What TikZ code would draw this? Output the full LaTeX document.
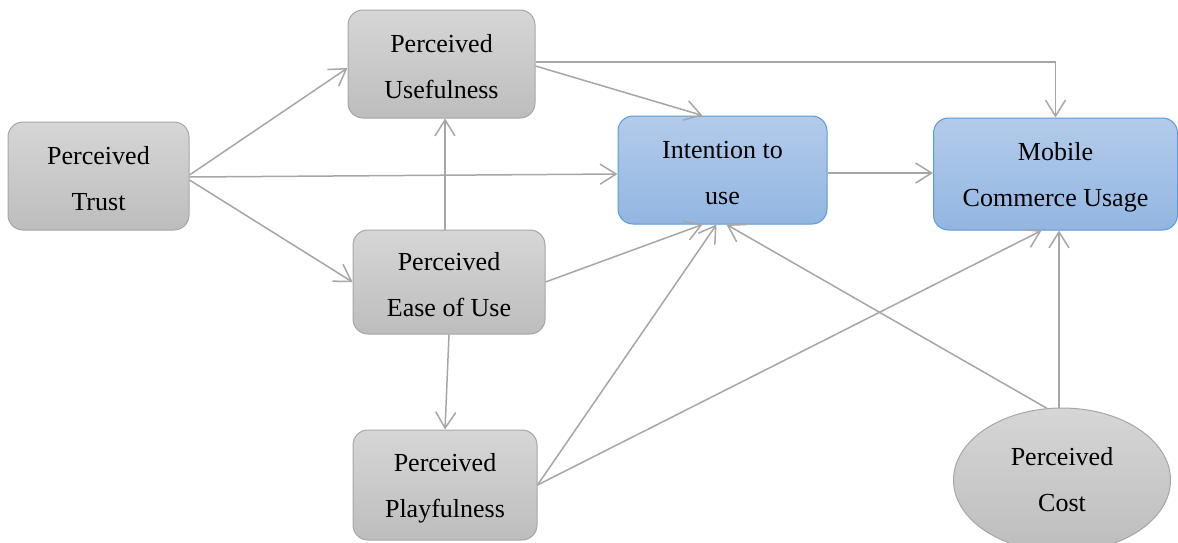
\documentclass[tikz,border=0pt]{standalone}
\usepackage{fontspec}
\setmainfont{Liberation Serif}
\usetikzlibrary{arrows.meta,shapes.geometric,calc}
\definecolor{gtop}{HTML}{D6D6D6}
\definecolor{gbot}{HTML}{BDBDBD}
\definecolor{gline}{HTML}{A6A6A6}
\definecolor{btop}{HTML}{B3CBEA}
\definecolor{bbot}{HTML}{92B6E1}
\definecolor{bline}{HTML}{5B9BD5}
\definecolor{arr}{HTML}{A6A6A6}
\newcommand\mystrut{\rule{0pt}{24pt}}
\tikzset{
  gbox/.style={draw=gline, line width=1pt, rounded corners=15pt, top color=gtop, bottom color=gbot,
    align=center, inner sep=0pt, font=\fontsize{26}{46}\selectfont},
  bbox/.style={draw=bline, line width=1pt, rounded corners=15pt, top color=btop, bottom color=bbot,
    align=center, inner sep=0pt, font=\fontsize{26}{46}\selectfont},
  gell/.style={draw=gline, line width=1pt, ellipse, top color=gtop, bottom color=gbot,
    align=center, inner sep=0pt, font=\fontsize{26}{46}\selectfont},
  link/.style={draw=arr, line width=1.5pt, -{Straight Barb[length=16pt,width=20pt,line width=1.5pt]}}
}
\begin{document}
\begin{tikzpicture}[x=1pt,y=-1pt]
\useasboundingbox (0,0) rectangle (1178,542);
\node[gbox, minimum width=181pt, minimum height=108pt] (tru) at (98.5,176) {\mystrut Perceived\\Trust};
\node[gbox, minimum width=187pt, minimum height=108pt] (use) at (441.5,64) {\mystrut Perceived\\Usefulness};
\node[gbox, minimum width=192pt, minimum height=104pt] (ease) at (449,282) {\mystrut Perceived\\Ease of Use};
\node[gbox, minimum width=184pt, minimum height=110pt] (play) at (445,485) {\mystrut Perceived\\Playfulness};
\node[bbox, minimum width=209pt, minimum height=108pt] (int) at (722.5,170) {\mystrut Intention to\\use};
\node[bbox, minimum width=244pt, minimum height=112pt] (mob) at (1055.5,174) {\mystrut Mobile\\Commerce Usage};
\node[gell, minimum width=217pt, minimum height=144pt] (cost) at (1062,480) {Perceived\\Cost};

\draw[link] ([yshift=1pt]tru.east) -- ([yshift=-4pt]use.west);
\draw[link] ([yshift=-1pt]tru.east) -- ([yshift=-4pt]int.west);
\draw[link] ([yshift=-4pt]tru.east) -- (ease.west);
\draw[link] ([xshift=-4pt]ease.north) -- ([xshift=-4pt]ease.north |- use.south);
\draw[link] ([yshift=-2pt]use.east) -- ([xshift=-20pt]int.north);
\draw[link] ([yshift=2pt]use.east) -| (mob.north);
\draw[link] ([yshift=-3pt]int.east) -- ([yshift=-3pt]int.east -| mob.west);
\draw[link] (ease.east) -- ([xshift=-20pt]int.south);
\draw[link] (ease.south) -- (play.north);
\draw[link] (play.east) -- ([xshift=-6pt]int.south);
\draw[link] (play.east) -- ([xshift=-14pt]mob.south);
\draw[link] (cost.102) -- ([xshift=4pt]int.south);
\draw[link] ([xshift=-3pt]cost.north) -- ([xshift=-3pt]cost.north |- mob.south);
\end{tikzpicture}
\end{document}
